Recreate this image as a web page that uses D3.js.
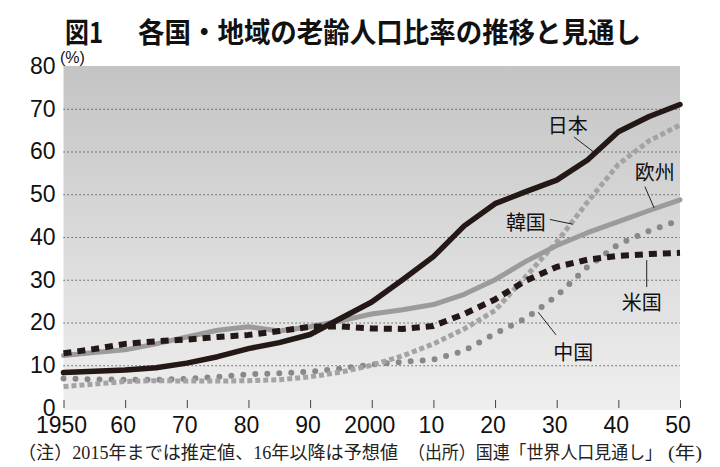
<!DOCTYPE html>
<html><head><meta charset="utf-8">
<script src="https://cdn.jsdelivr.net/npm/d3@7"></script>
<style>
html,body{margin:0;padding:0;background:#fff;}
svg{display:block;}
</style></head>
<body>
<svg id="chart" width="720" height="467"></svg>
<script>
// ---- data ----
const years = [1950,1955,1960,1965,1970,1975,1980,1985,1990,1995,2000,2005,2010,2015,2020,2025,2030,2035,2040,2045,2050];
const japan  = [8.3,8.6,8.9,9.4,10.5,12.0,13.9,15.3,17.2,21.0,24.8,30.0,35.4,42.6,47.8,50.6,53.3,58.0,64.6,68.2,71.0];
const europe = [12.3,13.0,13.6,15.0,16.6,18.2,19.0,18.0,19.0,20.4,22.0,23.0,24.2,26.6,30.0,34.3,38.0,41.0,43.6,46.2,48.7];
const usa    = [12.8,13.8,15.0,15.6,16.0,16.6,17.1,18.0,19.0,19.1,18.6,18.5,19.2,22.0,25.4,29.8,33.0,34.7,35.6,36.0,36.3];
const korea  = [5.0,5.6,6.2,6.4,6.3,6.3,6.4,6.6,7.3,8.4,10.0,12.2,15.0,18.5,22.8,30.8,38.8,48.2,57.0,62.5,66.2];
const china  = [6.9,6.7,6.6,6.6,6.8,7.3,7.9,8.1,8.5,9.2,10.2,10.8,11.3,13.4,17.4,21.0,26.2,33.0,38.3,41.4,44.0];

const xTickYears  = [1950,1960,1970,1980,1990,2000,2010,2020,2030,2040,2050];
const xTickLabels = ["1950","60","70","80","90","2000","10","20","30","40","50"];
const yTicks      = [0,10,20,30,40,50,60,70,80];
const gridValues  = [10,20,30,40,50,60,70];

const titleNo   = "図1";
const titleText = "各国・地域の老齢人口比率の推移と見通し";
const unitY     = "(%)";
const unitX     = "(年)";
const note1     = "（注）2015年までは推定値、16年以降は予想値";
const note2     = "（出所）国連「世界人口見通し」";

// series definitions (draw order)
const seriesNames = ["中国","韓国","欧州","米国","日本"];
const seriesData  = [china, korea, europe, usa, japan];

// label anchors in data coordinates: [labelYear, labelValue, leaderFromYear, leaderFromVal, leaderToYear, leaderToVal]
const labelAnchors = {
  "日本": [2031.8, 66.4, 2032.8, 63.4, 2035.9, 60.0],
  "欧州": [2045.9, 55.4, 2044.3, 51.8, 2045.8, 46.8],
  "韓国": [2025.0, 43.7, 2028.9, 44.1, 2032.6, 43.0],
  "米国": [2043.8, 25.0, 2044.6, 28.3, 2044.6, 34.6],
  "中国": [2032.7, 13.3, 2029.9, 17.1, 2027.0, 22.4]
};

// ---- styles ----
const styles = {
  "日本": {stroke:"#231815", width:5.5, dash:null, cap:"round"},
  "欧州": {stroke:"#9b9b9b", width:5,   dash:null, cap:"round"},
  "米国": {stroke:"#231815", width:6,   dash:"8,6", cap:"butt"},
  "韓国": {stroke:"#a3a3a3", width:5,   dash:"5,3", cap:"butt"},
  "中国": {stroke:"#888888", width:6,   dash:"0,12", cap:"round"}
};

const svg = d3.select("#chart");
const jp = "'Noto Sans CJK JP','Noto Sans',sans-serif";
const num = "'Liberation Sans',Arial,'Noto Sans CJK JP',sans-serif";
const serif = "'Liberation Serif','DejaVu Serif','Noto Sans CJK JP',serif";

const x = d3.scaleLinear().domain([1950,2050]).range([63.5,680]);
const y = d3.scaleLinear().domain([0,80]).range([408,66]);

// gradient background
const defs = svg.append("defs");
const grad = defs.append("linearGradient").attr("id","bg").attr("x1",0).attr("y1",0).attr("x2",0).attr("y2",1);
grad.append("stop").attr("offset","0%").attr("stop-color","#c4c4c4");
grad.append("stop").attr("offset","100%").attr("stop-color","#efefef");

svg.append("rect")
  .attr("x", x(1950)).attr("y", y(80))
  .attr("width", x(2050)-x(1950)).attr("height", y(0)-y(80)+2)
  .attr("fill","url(#bg)");

// gridlines
const grid = svg.append("g").attr("transform",`translate(${x(1950)},0)`)
  .call(d3.axisLeft(y).tickValues(gridValues).tickSize(-(x(2050)-x(1950))).tickFormat(""));
grid.select(".domain").remove();
grid.selectAll("line").attr("stroke","#3a3a3a").attr("stroke-width",1).attr("stroke-dasharray","1.2,2.8");

// y axis labels
const yAxis = svg.append("g").attr("transform",`translate(${x(1950)},0)`)
  .call(d3.axisLeft(y).tickValues(yTicks).tickSize(0).tickPadding(8));
yAxis.select(".domain").remove();
yAxis.selectAll("text").attr("font-family",num).attr("font-size",23).attr("fill","#111");

svg.append("text").attr("x",60).attr("y",63).attr("font-family",num).attr("font-size",16).attr("fill","#111").text(unitY);

// x axis
const xAxis = svg.append("g").attr("transform",`translate(0,${y(0)})`)
  .call(d3.axisBottom(x).tickValues(xTickYears).tickSizeInner(-8).tickSizeOuter(0)
        .tickFormat((d,i)=>xTickLabels[i]));
xAxis.select(".domain").remove();
xAxis.selectAll("line").attr("stroke","#444").attr("stroke-width",1);
xAxis.selectAll("text").attr("font-family",num).attr("font-size",23).attr("fill","#111")
  .attr("y",25).attr("dy",0).attr("x",-2.5);

// lines
const line = d3.line().x((d,i)=>x(years[i])).y(d=>y(d)).curve(d3.curveLinear);
seriesNames.forEach((name,k)=>{
  const s = styles[name];
  svg.append("path").datum(seriesData[k])
    .attr("d",line).attr("fill","none")
    .attr("stroke",s.stroke).attr("stroke-width",s.width)
    .attr("stroke-linecap",s.cap).attr("stroke-linejoin","round")
    .attr("stroke-dasharray",s.dash);
});

// labels with leaders
Object.entries(labelAnchors).forEach(([name,a])=>{
  svg.append("line")
    .attr("x1",x(a[2])).attr("y1",y(a[3])).attr("x2",x(a[4])).attr("y2",y(a[5]))
    .attr("stroke","#222").attr("stroke-width",1);
  svg.append("text").attr("x",x(a[0])).attr("y",y(a[1]))
    .attr("text-anchor","middle").attr("dominant-baseline","central")
    .attr("font-family",jp).attr("font-size",20).attr("fill","#111").text(name);
});

// title
svg.append("text").attr("x",65).attr("y",43).attr("font-family",jp).attr("font-weight",700)
  .attr("font-size",28).attr("fill","#111").attr("textLength",38).attr("lengthAdjust","spacingAndGlyphs").text(titleNo);
svg.append("text").attr("x",138).attr("y",43).attr("font-family",jp).attr("font-weight",700)
  .attr("font-size",28).attr("fill","#111").attr("textLength",503).attr("lengthAdjust","spacingAndGlyphs").text(titleText);

// footnotes
svg.append("text").attr("x",18).attr("y",459).attr("font-family",serif).attr("font-size",18).attr("fill","#222")
  .attr("textLength",380).attr("lengthAdjust","spacingAndGlyphs").text(note1);
svg.append("text").attr("x",408).attr("y",459).attr("font-family",serif).attr("font-size",18).attr("fill","#222")
  .attr("textLength",254).attr("lengthAdjust","spacingAndGlyphs").text(note2);
svg.append("text").attr("x",668).attr("y",459).attr("font-family",serif).attr("font-size",18).attr("fill","#222")
  .attr("textLength",34).attr("lengthAdjust","spacingAndGlyphs").text(unitX);
</script>
</body></html>
